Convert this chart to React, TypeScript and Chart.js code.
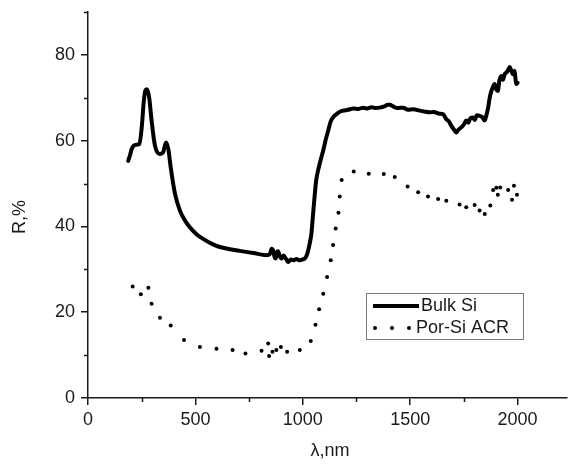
import React, { useEffect, useRef } from "react";
import { Chart, registerables } from "chart.js";

Chart.register(...registerables);

const bulkX = [187, 195, 203, 219, 239, 250, 260, 268, 275, 285, 296, 312, 335, 350, 363, 374, 385, 405, 428, 450, 474, 505, 536, 575, 614, 660, 707, 770, 831, 847, 855, 862, 868, 874, 880, 885, 893, 901, 910, 916, 925, 932, 945, 955, 970, 986, 1000, 1009, 1018, 1025, 1032, 1040, 1048, 1056, 1063, 1071, 1083, 1095, 1107, 1118, 1130, 1145, 1157, 1175, 1188, 1210, 1235, 1260, 1281, 1300, 1320, 1340, 1358, 1380, 1395, 1405, 1420, 1440, 1467, 1490, 1515, 1544, 1565, 1590, 1610, 1637, 1653, 1668, 1680, 1691, 1705, 1715, 1725, 1738, 1750, 1761, 1770, 1780, 1792, 1800, 1810, 1823, 1835, 1847, 1855, 1863, 1870, 1878, 1885, 1893, 1900, 1908, 1915, 1924, 1932, 1940, 1950, 1957, 1963, 1970, 1978, 1986, 1990, 1994, 2000];
const bulkR = [55.3, 56.5, 58, 59, 59.2, 63, 69.3, 71.8, 72, 70, 64.7, 58.8, 56.9, 57.3, 59.6, 58, 53.8, 47.6, 43.7, 41.5, 39.8, 38.2, 37.1, 36, 35.2, 34.7, 34.3, 33.8, 33.3, 33.6, 34.8, 34.4, 33, 32.5, 34, 34.2, 33, 32.5, 33.2, 32.9, 32.2, 31.7, 32.3, 32.1, 32.4, 32.1, 32.3, 32.5, 33.2, 34.4, 36, 38.3, 43, 47.6, 51, 53, 55.5, 57.7, 60.3, 62.3, 64.5, 65.7, 66.2, 66.8, 67, 67.2, 67.5, 67.4, 67.7, 67.5, 67.8, 67.6, 67.7, 68, 68.4, 68.4, 68, 67.6, 67.7, 67.2, 67.3, 67, 66.8, 66.6, 66.7, 66.3, 66.2, 65, 64.5, 63.5, 62.5, 61.9, 62.6, 63.1, 63.8, 64.7, 64.2, 65.2, 65.4, 64.8, 65.9, 65.8, 65.5, 64.7, 66, 67.7, 70, 71.6, 72.5, 73.2, 72, 71.6, 74, 75.1, 74.2, 75.5, 76, 76.6, 77.2, 76.4, 75.5, 76.3, 74.5, 73.2, 73.5];

const porX = [208, 246, 281, 296, 335, 385, 447, 521, 598, 673, 733, 808, 839, 843, 859, 877, 898, 927, 986, 1037, 1059, 1076, 1095, 1113, 1130, 1141, 1153, 1166, 1172, 1181, 1237, 1307, 1377, 1428, 1488, 1537, 1583, 1630, 1668, 1730, 1761, 1800, 1823, 1847, 1873, 1886, 1901, 1908, 1919, 1956, 1974, 1983, 1997];
const porR = [26, 24.2, 25.7, 22, 18.7, 16.9, 13.5, 11.9, 11.5, 11.2, 10.4, 11, 12.7, 9.8, 10.8, 11.2, 11.9, 10.8, 11.2, 13.3, 17.1, 20.7, 24.3, 28.2, 32.1, 35.7, 39.5, 43.2, 47, 50.8, 52.8, 52.3, 52.2, 51.5, 49.3, 48, 47, 46.4, 46, 45.1, 44.5, 45, 43.7, 42.9, 44.9, 48.5, 49, 47.4, 49.1, 48.5, 46.2, 49.5, 47.4];

const xMajor = [0, 500, 1000, 1500, 2000];
const xMinor = [250, 750, 1250, 1750];
const yMajor = [0, 20, 40, 60, 80];
const yMinor = [10, 30, 50, 70, 90];

const seriesNames = ["Bulk Si", "Por-Si ACR"];
const xTitle = "λ,nm";
const yTitle = "R,%";

const FONT = "'Liberation Sans', Arial, sans-serif";
const FS = 18;
const INK = "#1a1a1a";

const decorPlugin = {
  id: "decor",
  afterDraw(chart: any) {
    const ctx = chart.ctx;
    const xs = chart.scales.x;
    const ys = chart.scales.y;
    const area = chart.chartArea;
    ctx.save();
    ctx.strokeStyle = INK;
    ctx.lineWidth = 1.5;
    ctx.beginPath();
    for (const v of xMinor) {
      const px = Math.round(xs.getPixelForValue(v)) + 0.5;
      ctx.moveTo(px, area.bottom);
      ctx.lineTo(px, area.bottom + 4);
    }
    for (const v of yMinor) {
      const py = Math.round(ys.getPixelForValue(v)) + 0.5;
      ctx.moveTo(area.left, py);
      ctx.lineTo(area.left - 4, py);
    }
    ctx.stroke();

    ctx.fillStyle = INK;
    ctx.font = `${FS}px ${FONT}`;
    ctx.textAlign = "center";
    ctx.textBaseline = "middle";
    ctx.fillText(xTitle, 330, 451);
    ctx.save();
    ctx.translate(20, 217);
    ctx.rotate(-Math.PI / 2);
    ctx.fillText(yTitle, 0, 0);
    ctx.restore();

    ctx.strokeStyle = "#7a7a7a";
    ctx.lineWidth = 1;
    ctx.strokeRect(366.5, 293.5, 157, 46);
    ctx.strokeStyle = "#000";
    ctx.lineWidth = 4;
    ctx.beginPath();
    ctx.moveTo(373, 306);
    ctx.lineTo(419, 306);
    ctx.stroke();
    ctx.fillStyle = "#000";
    for (const dx of [375, 392, 409]) {
      ctx.beginPath();
      ctx.arc(dx, 328, 2, 0, Math.PI * 2);
      ctx.fill();
    }
    ctx.fillStyle = INK;
    ctx.textAlign = "left";
    ctx.fillText(seriesNames[0], 421, 306);
    ctx.fillText(seriesNames[1], 416, 328);
    ctx.restore();
  },
};

export default function App() {
  const ref = useRef<HTMLCanvasElement>(null);
  useEffect(() => {
    document.body.style.margin = "0";
    const canvas = ref.current!;
    const bulk = bulkX.map((x, i) => ({ x, y: bulkR[i] }));
    const por = porX.map((x, i) => ({ x, y: porR[i] }));
    const chart = new Chart(canvas, {
      type: "scatter",
      data: {
        datasets: [
          {
            label: seriesNames[0],
            data: bulk,
            showLine: true,
            borderColor: "#000",
            borderWidth: 4,
            pointRadius: 0,
            cubicInterpolationMode: "monotone",
            borderJoinStyle: "round",
            borderCapStyle: "round",
          },
          {
            label: seriesNames[1],
            data: por,
            showLine: false,
            backgroundColor: "#000",
            borderColor: "#000",
            borderWidth: 0,
            pointRadius: 2,
            pointStyle: "circle",
          },
        ],
      },
      options: {
        animation: false,
        responsive: false,
        devicePixelRatio: 1,
        layout: { padding: { top: 12, right: 0, left: 0, bottom: 0 } },
        plugins: { legend: { display: false }, tooltip: { enabled: false } },
        scales: {
          x: {
            type: "linear",
            min: 0,
            max: 2230,
            afterBuildTicks: (s: any) => {
              s.ticks = xMajor.map((v) => ({ value: v }));
            },
            afterFit: (s: any) => {
              s.height = 67;
              s.paddingLeft = 0;
              s.paddingRight = 0;
            },
            border: { display: true, color: INK, width: 1.5 },
            grid: { display: true, drawOnChartArea: false, drawTicks: true, tickLength: 7, color: INK, lineWidth: 1.5 },
            ticks: {
              autoSkip: false,
              color: INK,
              padding: 4,
              maxRotation: 0,
              font: { family: FONT, size: FS },
              callback: (v: any) => String(v),
            },
          },
          y: {
            type: "linear",
            min: 0,
            max: 90,
            afterBuildTicks: (s: any) => {
              s.ticks = yMajor.map((v) => ({ value: v }));
            },
            afterFit: (s: any) => {
              s.width = 88;
              s.paddingTop = 0;
              s.paddingBottom = 0;
            },
            border: { display: true, color: INK, width: 1.5 },
            grid: { display: true, drawOnChartArea: false, drawTicks: true, tickLength: 7, color: INK, lineWidth: 1.5 },
            ticks: {
              autoSkip: false,
              color: INK,
              padding: 6,
              font: { family: FONT, size: FS },
              callback: (v: any) => String(v),
            },
          },
        },
      },
      plugins: [decorPlugin],
    } as any);
    return () => chart.destroy();
  }, []);
  return (
    <div style={{ position: "absolute", left: 0, top: 0, width: 571, height: 465, background: "#fff" }}>
      <canvas ref={ref} width={571} height={465} style={{ width: 571, height: 465, display: "block" }} />
    </div>
  );
}
